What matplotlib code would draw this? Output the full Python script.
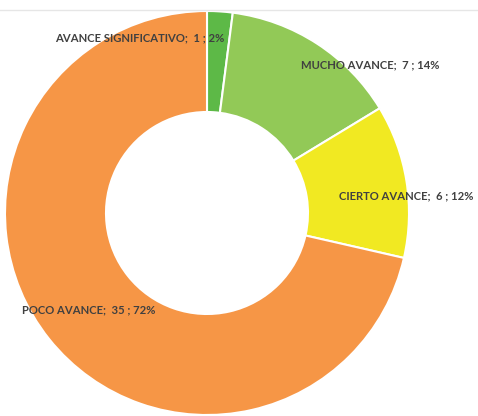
import matplotlib
matplotlib.use("Agg")
import matplotlib.pyplot as plt
from matplotlib.lines import Line2D

categories = ["AVANCE SIGNIFICATIVO", "MUCHO AVANCE", "CIERTO AVANCE", "POCO AVANCE"]
values = [1, 7, 6, 35]
percent_labels = ["2%", "14%", "12%", "72%"]
colors = ["#5DB947", "#92C957", "#F1E922", "#F69646"]

# label anchor positions in figure pixels (layout only)
label_pos = [(140, 38), (370, 65), (406, 196), (89, 310)]

W, H = 478, 416
fig = plt.figure(figsize=(W / 100, H / 100), dpi=100)
fig.patch.set_facecolor("white")

cx, cy, r = 207, 213, 202
ax = fig.add_axes([(cx - r) / W, (H - cy - r) / H, 2 * r / W, 2 * r / H])
ax.pie(values, colors=colors, startangle=90, counterclock=False, radius=1.0,
       wedgeprops=dict(width=0.5, edgecolor="white", linewidth=1.5))
ax.set_xlim(-1, 1)
ax.set_ylim(-1, 1)
ax.set_aspect("equal")
ax.axis("off")

fig.add_artist(Line2D([0, 1], [1 - 10 / H, 1 - 10 / H], transform=fig.transFigure,
                      color="#E6E6E6", linewidth=1.0))

for cat, v, p, (px, py) in zip(categories, values, percent_labels, label_pos):
    fig.text(px / W, 1 - py / H, f"{cat};  {v} ; {p}", ha="center", va="center",
             fontsize=8.1, fontweight="bold", color="#404040", family=["Lato", "DejaVu Sans"])

fig.savefig("out.png", dpi=100, facecolor="white")
